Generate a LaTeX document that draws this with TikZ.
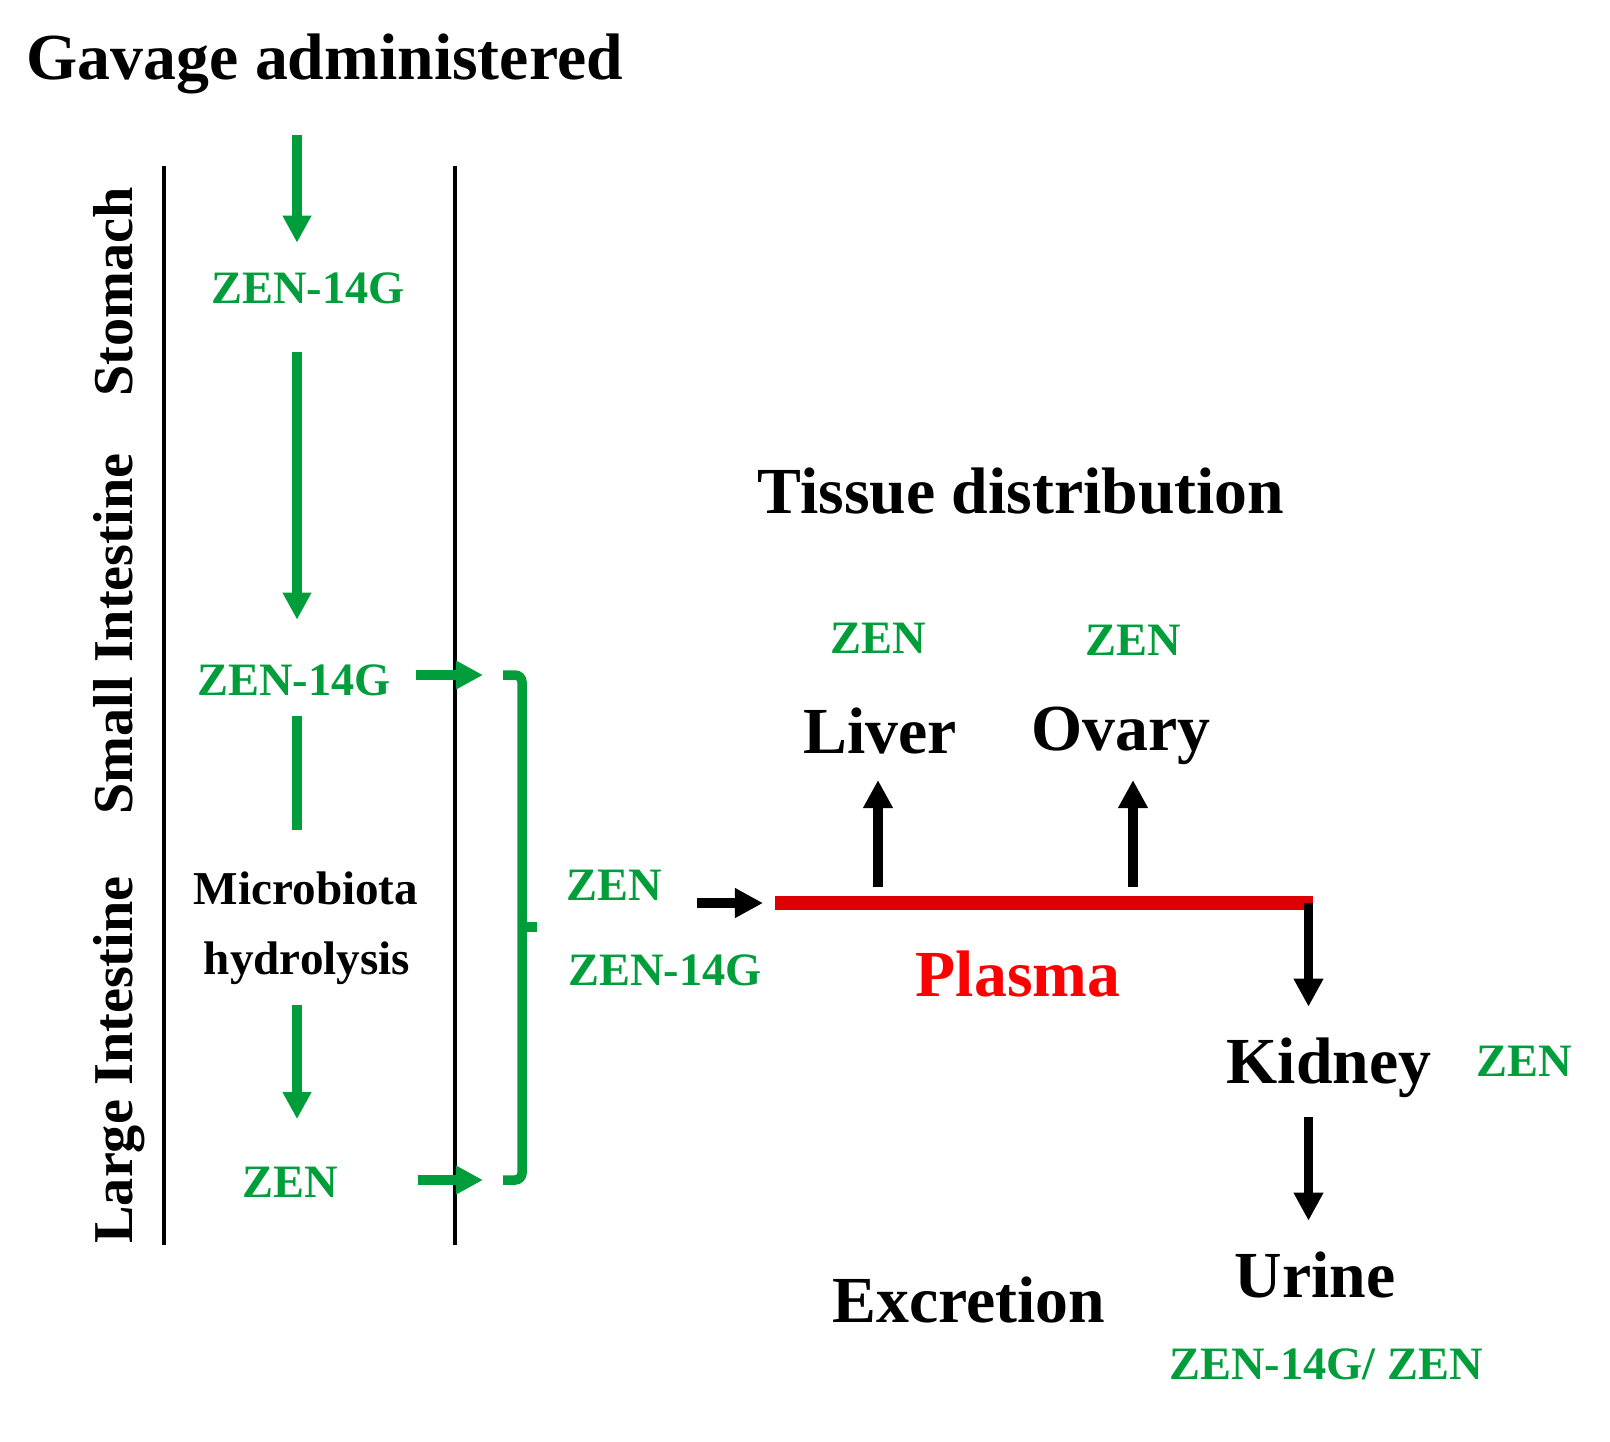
\documentclass[tikz,border=0pt]{standalone}
\usepackage{fontspec}
\setmainfont{Liberation Serif}
\usetikzlibrary{arrows.meta,positioning}
\definecolor{zengreen}{RGB}{0,158,58}
\definecolor{plasmared}{RGB}{222,0,0}

\begin{document}
\begin{tikzpicture}[x=0.01cm,y=-0.01cm,>={Triangle[length=2.8mm,width=2.8mm]},
  every node/.style={inner sep=0pt,font=\bfseries},
  big/.style={font=\bfseries\fontsize{18.7}{22}\selectfont,anchor=base},
  organ/.style={font=\bfseries\fontsize{16}{19}\selectfont,rotate=90,anchor=base},
  micro/.style={font=\bfseries\fontsize{13.4}{16}\selectfont,anchor=base},
  zen/.style={text=zengreen,font=\bfseries\fontsize{13.2}{16}\selectfont},
  wall/.style={line width=1.4pt},
  gline/.style={zengreen,line width=2.7pt},
  garrow/.style={gline,-{Triangle[length=2.7mm,width=2.7mm]}},
  barrow/.style={line width=2.8pt,->}]
\useasboundingbox (0,0) rectangle (1610,1441);

\node[big,anchor=base west] (gavage) at (26,79) {Gavage administered};

% gut
\draw[wall] (164,166) -- (164,1245);
\draw[wall] (455,166) -- (455,1245);
\node[organ] (stomach) at (132,292) {Stomach};
\node[organ] (small) at (132,634) {Small Intestine};
\node[organ] (large) at (132,1060) {Large Intestine};

\coordinate (feed) at (297,135);
\node[zen] (zs)  at (308,288) {ZEN-14G};
\node[zen] (zsi) at (294,680) {ZEN-14G};
\node[micro] (mic) at (306,904) {Microbiota};
\node[micro] (hyd) at (307,974) {hydrolysis};
\node[zen] (zl)  at (290,1182) {ZEN};

\draw[garrow,shorten >=2.9mm] (feed) -- (feed |- zs.north);
\draw[garrow,shorten <=4.8mm,shorten >=4.4mm] (zs.south -| feed) -- (zsi.north -| feed);
\draw[gline,shorten <=2mm,shorten >=4.1mm] (zsi.south -| feed) -- (mic.north -| feed);
\draw[garrow,shorten <=2mm,shorten >=4.7mm] (hyd.south -| feed) -- (zl.north -| feed);

% absorption
\coordinate (brtop) at (503,675);
\coordinate (brbot) at (503,1180);
\coordinate (spine) at (522,927);
\coordinate (brmid) at (537,927);
\draw[gline,rounded corners=2pt] (brtop) -- (brtop -| spine) -- (brbot -| spine) -- (brbot);
\draw[gline] (spine) -- (brmid);
\draw[garrow,shorten <=2.5mm,shorten >=2mm] (zsi.east |- brtop) -- (brtop);
\draw[garrow,shorten <=8mm,shorten >=2mm] (zl.east |- brbot) -- (brbot);

\node[zen] (zmix)  at (614,885) {ZEN};
\node[zen] (zmixg) at (665,970) {ZEN-14G};

% plasma
\coordinate (pl) at (775,903);
\coordinate (pr) at (1313,903);
\coordinate (drop) at ([xshift=-0.45mm]pr);
\draw[plasmared,line width=4pt] (pl) -- (pr);
\draw[barrow,shorten <=3.5mm,shorten >=1.2mm] (zmix.east |- pl) -- (pl);
\node[big,text=red] (plasma) at (1018,996) {Plasma};

\node[big] (tissue) at (1021,513) {Tissue distribution};
\node[zen] (zliv) at (878,638) {ZEN};
\node[big] (liver) at (880,753) {Liver};
\node[zen] (zov) at (1133,640) {ZEN};
\node[big] (ovary) at (1121,750) {Ovary};
\draw[barrow,shorten <=1.6mm,shorten >=2.7mm] (zliv |- pl) -- (zliv |- liver.base);
\draw[barrow,shorten <=1.6mm,shorten >=3mm] (zov |- pl) -- (zov |- ovary.base);

% excretion
\node[big] (kidney) at (1329,1083) {Kidney};
\node[zen] (zkid) at (1524,1061) {ZEN};
\node[big] (urine) at (1315,1297) {Urine};
\node[big] (excretion) at (969,1322) {Excretion};
\node[zen] (zurine) at (1326,1364) {ZEN-14G/ ZEN};
\draw[barrow,shorten >=3mm] (drop) -- (drop |- kidney.north);
\draw[barrow,shorten <=1.9mm,shorten >=3mm] (drop |- kidney.south) -- (drop |- urine.north);
\end{tikzpicture}
\end{document}
